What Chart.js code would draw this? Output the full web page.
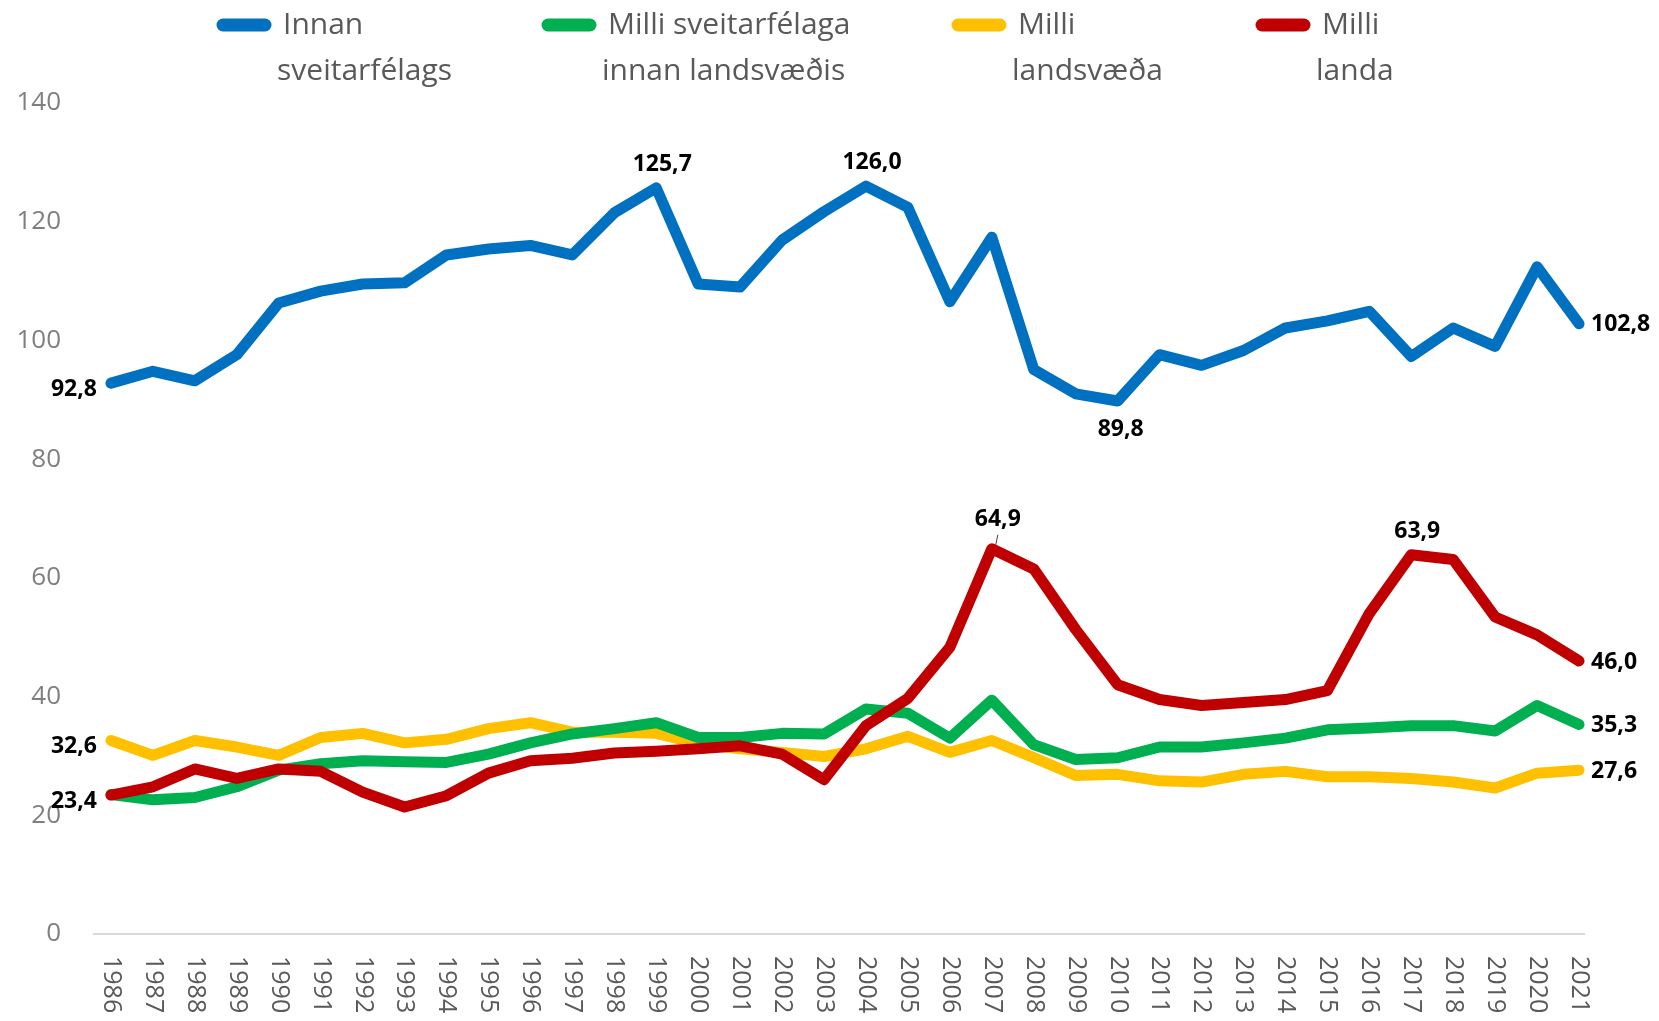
<!DOCTYPE html>
<html>
<head>
<meta charset="utf-8">
<script src="https://cdn.jsdelivr.net/npm/chart.js@4/dist/chart.umd.min.js"></script>
<style>
  html, body { margin: 0; padding: 0; background: #ffffff; }
  #wrap { position: relative; width: 1659px; height: 1021px; }
</style>
</head>
<body>
<div id="wrap"><canvas id="c" width="1659" height="1021"></canvas></div>
<script>
const years = ["1986","1987","1988","1989","1990","1991","1992","1993","1994","1995","1996","1997",
  "1998","1999","2000","2001","2002","2003","2004","2005","2006","2007","2008","2009",
  "2010","2011","2012","2013","2014","2015","2016","2017","2018","2019","2020","2021"];

const seriesNames = ["Innan\nsveitarfélags", "Milli sveitarfélaga\ninnan landsvæðis", "Milli\nlandsvæða", "Milli\nlanda"];

const innanSveitarfelags = [92.8, 94.8, 93.2, 97.6, 106.3, 108.3, 109.5, 109.7, 114.4, 115.4, 116.0, 114.4,
  121.5, 125.7, 109.5, 109.0, 116.9, 121.7, 126.0, 122.4, 106.5, 117.4, 95.1, 91.0,
  89.8, 97.6, 95.8, 98.3, 102.1, 103.3, 104.9, 97.3, 102.1, 99.0, 112.4, 102.8];

const milliSveitarfelaga = [23.5, 22.6, 23.0, 24.8, 27.6, 28.7, 29.2, 29.0, 28.9, 30.3, 32.2, 33.7,
  34.6, 35.6, 33.1, 33.1, 33.8, 33.7, 37.9, 37.2, 33.0, 39.4, 31.9, 29.4,
  29.7, 31.5, 31.5, 32.2, 33.0, 34.4, 34.7, 35.1, 35.1, 34.2, 38.5, 35.3];

const milliLandsvaeda = [32.6, 30.1, 32.6, 31.5, 30.1, 33.1, 33.8, 32.2, 32.8, 34.6, 35.6, 34.0,
  34.0, 33.8, 32.1, 31.2, 30.6, 29.9, 31.2, 33.3, 30.6, 32.6, 29.7, 26.7,
  26.9, 25.8, 25.6, 26.9, 27.4, 26.5, 26.5, 26.2, 25.6, 24.6, 27.1, 27.6];

const milliLanda = [23.4, 24.8, 27.8, 26.2, 27.8, 27.4, 23.9, 21.4, 23.3, 27.1, 29.2, 29.6,
  30.5, 30.8, 31.2, 31.7, 30.3, 26.0, 35.1, 39.7, 48.3, 64.9, 61.5, 51.3,
  42.0, 39.5, 38.5, 39.0, 39.5, 41.0, 54.0, 63.9, 63.1, 53.4, 50.4, 46.0];

const yTicks = [0, 20, 40, 60, 80, 100, 120, 140];

// which points carry a value label: [dataset index, point index, side]
const labelled = [
  [0, 0, "left"], [0, 13, "above"], [0, 18, "above"], [0, 24, "below"], [0, 35, "right"],
  [3, 21, "above"], [3, 31, "above"], [3, 35, "right"], [3, 0, "left"],
  [1, 35, "right"], [2, 35, "right"], [2, 0, "left"]
];

const colors = ["#0070C0", "#00B050", "#FFC000", "#C00000"];
const values = [innanSveitarfelags, milliSveitarfelaga, milliLandsvaeda, milliLanda];
const drawOrder = [0, 2, 3, 1];

const fmt = v => v.toFixed(1).replace(".", ",");

const legendPlugin = {
  id: "legendTop",
  afterDraw(chart) {
    const ctx = chart.ctx;
    const xs = [217, 542, 952, 1256];
    ctx.save();
    chart.data.datasets.forEach((ds, i) => {
      const x = xs[i];
      ctx.strokeStyle = ds.borderColor;
      ctx.lineWidth = 13;
      ctx.lineCap = "round";
      ctx.beginPath();
      ctx.moveTo(x + 6, 25);
      ctx.lineTo(x + 48, 25);
      ctx.stroke();
      ctx.fillStyle = "#595959";
      ctx.font = "30px 'Open Sans'";
      ctx.textAlign = "left";
      ctx.textBaseline = "middle";
      const lines = ds.label.split("\n");
      lines.forEach((t, j) => ctx.fillText(t, x + (j === 0 ? 66 : 60), 25 + j * 46));
    });
    ctx.restore();
  }
};

const axisLinePlugin = {
  id: "axisLine",
  beforeDatasetsDraw(chart) {
    const ctx = chart.ctx;
    const xs = chart.scales.x;
    const y = chart.scales.y.getPixelForValue(0);
    const last = xs.getPixelForValue(chart.data.labels.length - 1);
    ctx.save();
    ctx.strokeStyle = "#d9d9d9";
    ctx.lineWidth = 2;
    ctx.beginPath();
    ctx.moveTo(chart.chartArea.left + 3, y);
    ctx.lineTo(last + 6, y);
    ctx.stroke();
    ctx.restore();
  }
};

const xLabelPlugin = {
  id: "xLabels",
  afterDraw(chart) {
    const ctx = chart.ctx;
    const xs = chart.scales.x;
    ctx.save();
    ctx.fillStyle = "#595959";
    ctx.font = "25px 'Open Sans'";
    ctx.textAlign = "left";
    ctx.textBaseline = "middle";
    chart.data.labels.forEach((lab, i) => {
      const x = xs.getPixelForValue(i);
      ctx.save();
      ctx.translate(x, 956);
      ctx.rotate(Math.PI / 2);
      ctx.fillText(lab, 0, 0);
      ctx.restore();
    });
    ctx.restore();
  }
};

const valueLabelPlugin = {
  id: "valueLabels",
  afterDatasetsDraw(chart) {
    const ctx = chart.ctx;
    ctx.save();
    ctx.fillStyle = "#000000";
    ctx.font = "bold 23px 'Open Sans'";
    labelled.forEach(([d, i, side]) => {
      const p = chart.getDatasetMeta(d).data[i];
      const txt = fmt(chart.data.datasets[d].data[i]);
      let x = p.x, y = p.y;
      if (side === "left") { ctx.textAlign = "right"; ctx.textBaseline = "middle"; x -= 14; y += 6; }
      else if (side === "right") { ctx.textAlign = "left"; ctx.textBaseline = "middle"; x += 12; y += 1; }
      else if (side === "above") { ctx.textAlign = "center"; ctx.textBaseline = "bottom"; y -= 12; x += 6; }
      else { ctx.textAlign = "center"; ctx.textBaseline = "top"; y += 17; x += 3; }
      if (d === 3 && i === 21) {
        ctx.save();
        ctx.strokeStyle = "#404040"; ctx.lineWidth = 1;
        ctx.beginPath(); ctx.moveTo(p.x + 4, p.y - 4); ctx.lineTo(p.x + 6, p.y - 14); ctx.stroke();
        ctx.restore();
        y -= 6;
      }
      ctx.fillText(txt, x, y);
    });
    ctx.restore();
  }
};

new Chart(document.getElementById("c"), {
  type: "line",
  data: {
    labels: years,
    datasets: values.map((v, k) => ({
      label: seriesNames[k],
      data: v,
      borderColor: colors[k],
      backgroundColor: colors[k],
      borderWidth: 11,
      pointRadius: 0,
      pointHoverRadius: 0,
      tension: 0,
      borderJoinStyle: "round",
      borderCapStyle: "round",
      order: drawOrder[k]
    }))
  },
  options: {
    responsive: false,
    animation: false,
    events: [],
    layout: { padding: { top: 103, right: 59, bottom: 0, left: 0 } },
    plugins: { legend: { display: false }, tooltip: { enabled: false } },
    scales: {
      x: {
        offset: true,
        grid: { display: false },
        border: { display: false },
        ticks: { display: false },
        afterFit(s) { s.height = 87; }
      },
      y: {
        min: 0, max: 140,
        afterBuildTicks(s) { s.ticks = yTicks.map(v => ({ value: v })); },
        grid: { display: false, drawTicks: false },
        border: { display: false },
        ticks: { color: "#7f7f7f", font: { family: "'Open Sans'", size: 26 }, padding: 29 },
        afterFit(s) { s.width = 90; }
      }
    }
  },
  plugins: [axisLinePlugin, legendPlugin, xLabelPlugin, valueLabelPlugin]
});
</script>
</body>
</html>
